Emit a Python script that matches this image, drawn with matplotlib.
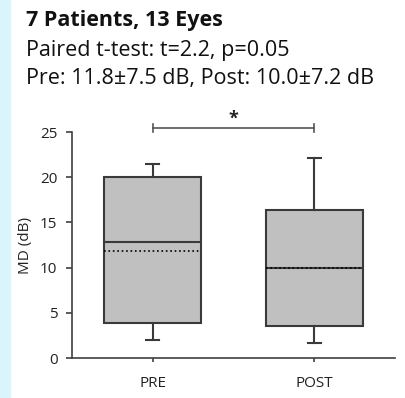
import matplotlib.pyplot as plt
from matplotlib.patches import Rectangle

# values
groups = ['PRE', 'POST']
whislo = [2.0, 1.7]
q1 = [3.9, 3.5]
med = [12.8, 9.95]
q3 = [20.0, 16.4]
whishi = [21.5, 22.1]
means = [11.8, 10.0]

title_lines = ['7 Patients, 13 Eyes',
               'Paired t-test: t=2.2, p=0.05',
               'Pre: 11.8\u00b17.5 dB, Post: 10.0\u00b17.2 dB']

plt.rcParams['font.family'] = ['Open Sans', 'DejaVu Sans']

fig = plt.figure(figsize=(4.05, 3.98), dpi=100)
fig.patches.append(Rectangle((0, 0), 10 / 405, 1, transform=fig.transFigure,
                             color='#daf4fc', zorder=0))

ax = fig.add_axes([72 / 405, 1 - 358 / 398, 323 / 405, 226 / 398])

stats = []
for i, g in enumerate(groups):
    stats.append(dict(label=g, whislo=whislo[i], q1=q1[i], med=med[i],
                      q3=q3[i], whishi=whishi[i], mean=means[i], fliers=[]))

edge = '#3a3a3a'
ax.bxp(stats, positions=[1, 2], widths=0.6, patch_artist=True,
       showmeans=True, meanline=True,
       boxprops=dict(facecolor='#c0c0c0', edgecolor=edge, linewidth=1.5),
       medianprops=dict(color=edge, linewidth=1.5),
       meanprops=dict(color='black', linestyle=':', linewidth=1.2),
       whiskerprops=dict(color=edge, linewidth=1.5),
       capprops=dict(color=edge, linewidth=1.5),
       capwidths=0.08)

ax.set_xlim(0.5, 2.5)
ax.set_ylim(0, 25)
ax.set_yticks([0, 5, 10, 15, 20, 25])
ax.spines['top'].set_visible(False)
ax.spines['right'].set_visible(False)
for s in ['left', 'bottom']:
    ax.spines[s].set_color('#404040')
    ax.spines[s].set_linewidth(1.2)
ax.tick_params(axis='y', colors='#404040', labelcolor='#222222', labelsize=11,
               length=4, width=1.2, pad=6.5)
ax.tick_params(axis='x', colors='#404040', labelcolor='#222222', labelsize=11,
               length=3, width=1.2, pad=10)
ax.set_ylabel('MD (dB)', fontsize=11, color='#222222', labelpad=5)

# significance bracket
yb = 25.4
ax.plot([1, 2], [yb, yb], color='#555555', lw=1.2, clip_on=False)
ax.plot([1, 1], [yb - 0.45, yb + 0.45], color='#555555', lw=1.2, clip_on=False)
ax.plot([2, 2], [yb - 0.45, yb + 0.45], color='#555555', lw=1.2, clip_on=False)
ax.text(1.5, yb + 0.1, '*', ha='center', va='bottom', fontsize=13,
        fontweight='bold', color='#222222')

fig.text(26 / 405, 1 - 26 / 398, title_lines[0], fontsize=15.5, fontweight='bold',
         va='baseline', ha='left', color='#111111')
fig.text(26 / 405, 1 - 56 / 398, title_lines[1], fontsize=15.5,
         va='baseline', ha='left', color='#111111')
fig.text(26 / 405, 1 - 84 / 398, title_lines[2], fontsize=15.5,
         va='baseline', ha='left', color='#111111')

fig.savefig('out.png', dpi=100, facecolor='white')
